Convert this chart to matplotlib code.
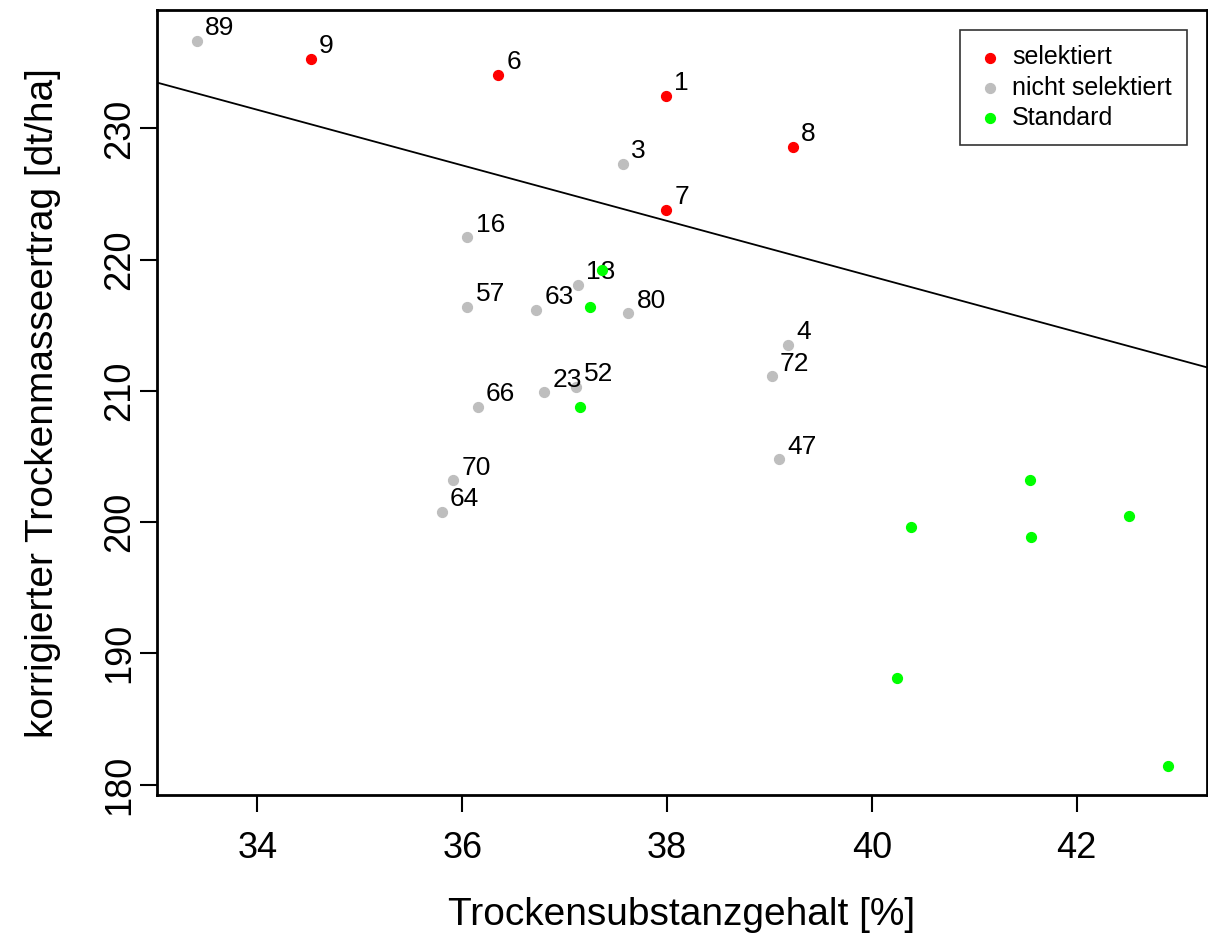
import matplotlib.pyplot as plt

plt.rcParams['font.family'] = ['Liberation Sans', 'DejaVu Sans']

# selected (red)
sel_x = [34.52, 36.35, 37.99, 39.23, 37.99]
sel_y = [235.3, 234.1, 232.5, 228.6, 223.8]
sel_lab = ['9', '6', '1', '8', '7']

# not selected (grey)
non_x = [33.41, 37.57, 36.05, 37.13, 36.05, 36.72, 37.62, 39.18, 39.02,
         36.15, 36.80, 37.11, 35.91, 35.80, 39.09]
non_y = [236.7, 227.3, 221.7, 218.1, 216.4, 216.2, 215.9, 213.5, 211.1,
         208.8, 209.9, 210.3, 203.2, 200.8, 204.8]
non_lab = ['89', '3', '16', '18', '57', '63', '80', '4', '72',
           '66', '23', '52', '70', '64', '47']

# standard varieties (green)
std_x = [37.36, 37.25, 37.15, 41.54, 40.38, 41.55, 42.51, 40.25, 42.89]
std_y = [219.2, 216.4, 208.8, 203.2, 199.6, 198.9, 200.5, 188.1, 181.4]

# index line
line_b = 303.4
line_m = -2.117

fig = plt.figure(figsize=(12.08, 9.42), dpi=100)
ax = fig.add_axes([0.130, 0.156, 0.869, 0.833])

ax.scatter(non_x, non_y, s=50, color='#BEBEBE', label='nicht selektiert', zorder=2)
ax.scatter(sel_x, sel_y, s=50, color='#FF0000', label='selektiert', zorder=2)

for x, y, t in zip(sel_x + non_x, sel_y + non_y, sel_lab + non_lab):
    ax.annotate(t, (x, y), xytext=(6, 4), textcoords='offset points',
                ha='left', va='baseline', fontsize=19, zorder=3)

ax.scatter(std_x, std_y, s=50, color='#00FF00', label='Standard', zorder=4)

ax.axline((0, line_b), slope=line_m, color='black', lw=1.3, zorder=1)

ax.set_xlim(33.02, 43.27)
ax.set_ylim(179.2, 239.0)
ax.set_xticks([34, 36, 38, 40, 42])
ax.set_yticks([180, 190, 200, 210, 220, 230])
ax.tick_params(axis='both', labelsize=26, length=12, width=1.5, direction='out')
ax.tick_params(axis='x', pad=14)
ax.tick_params(axis='y', pad=2)
for lab in ax.get_yticklabels():
    lab.set_rotation(90)
    lab.set_va('center')
for sp in ax.spines.values():
    sp.set_linewidth(2)

ax.set_xlabel('Trockensubstanzgehalt [%]', fontsize=28, labelpad=22)
ax.set_ylabel('korrigierter Trockenmasseertrag [dt/ha]', fontsize=28, labelpad=30)

h, l = ax.get_legend_handles_labels()
order = [1, 0, 2]
leg = ax.legend([h[i] for i in order], [l[i] for i in order], loc='upper right',
                fontsize=18, frameon=True, fancybox=False, edgecolor='black',
                borderaxespad=0.8, handletextpad=0.3, labelspacing=0.25,
                handlelength=1.2, borderpad=0.6, scatterpoints=1)
leg.get_frame().set_linewidth(1.2)

fig.savefig('out.png', dpi=100)
